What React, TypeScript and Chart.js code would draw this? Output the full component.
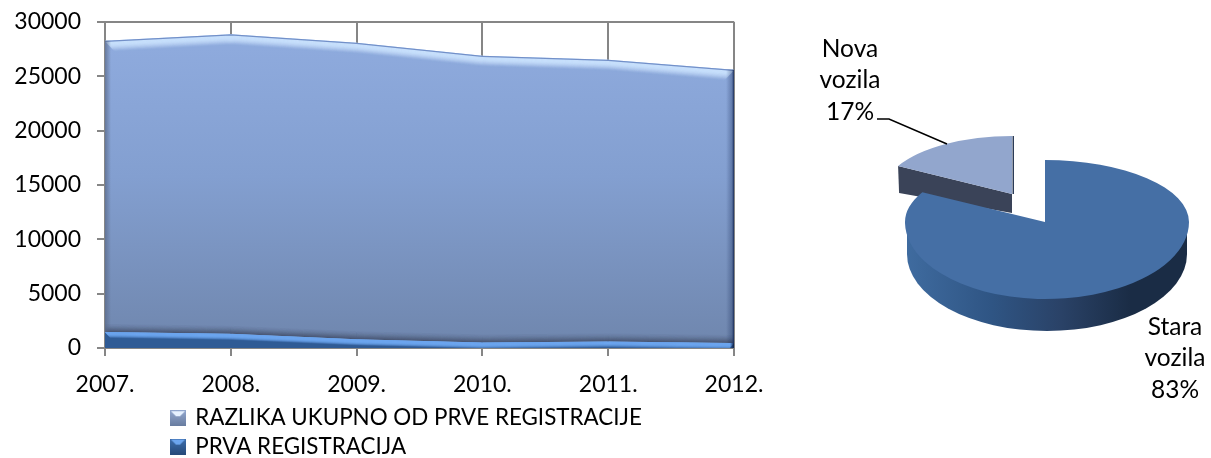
import React, { useEffect, useRef } from "react";
import { Chart, registerables } from "chart.js";

Chart.register(...registerables);

const years = ["2007.", "2008.", "2009.", "2010.", "2011.", "2012."];
const firstRegistration = [1470, 1300, 800, 500, 600, 450];
const difference = [26780, 27550, 27270, 26370, 25900, 25130];
const yTicks = [0, 5000, 10000, 15000, 20000, 25000, 30000];
const firstLabel = "PRVA REGISTRACIJA";
const differenceLabel = "RAZLIKA UKUPNO OD PRVE REGISTRACIJE";

const pieLabels = ["Stara vozila", "Nova vozila"];
const pieValues = [83, 17];

const FONT = "Lato";
const SHIFT = 8;

type Pt = { x: number; y: number };

function pts(chart: any, i: number): Pt[] {
  return chart.getDatasetMeta(i).data.map((p: any) => ({ x: p.x, y: p.y }));
}

function clipArea(ctx: CanvasRenderingContext2D, top: Pt[], bot: Pt[]) {
  ctx.beginPath();
  top.forEach((p, i) => (i ? ctx.lineTo(p.x, p.y) : ctx.moveTo(p.x, p.y)));
  [...bot].reverse().forEach((p) => ctx.lineTo(p.x, p.y));
  ctx.closePath();
  ctx.clip();
}

function strip(ctx: CanvasRenderingContext2D, line: Pt[], dy: number, dx = 0) {
  ctx.beginPath();
  line.forEach((p, i) => {
    const x = i === 0 ? p.x + dx : i === line.length - 1 ? p.x - dx : p.x;
    if (i) ctx.lineTo(x, p.y + dy);
    else ctx.moveTo(x, p.y + dy);
  });
  ctx.stroke();
}

const bevelPlugin = {
  id: "bevel",
  afterDatasetsDraw(chart: any) {
    const ctx: CanvasRenderingContext2D = chart.ctx;
    const a = chart.chartArea;
    const low = pts(chart, 0);
    const up = pts(chart, 1);
    const base = low.map((p) => ({ x: p.x, y: a.bottom }));

    // upper series
    ctx.save();
    clipArea(ctx, up, low);
    ctx.lineWidth = 1.2;
    for (let d = 11; d >= 0; d -= 0.5) {
      const al = d < 3 ? 0.9 : Math.max(0, 0.9 * (1 - (d - 3) / 8) ** 1.5);
      ctx.strokeStyle = `rgba(200,224,252,${al})`;
      strip(ctx, up, d, d * 0.9);
    }
    ctx.strokeStyle = "#7390c8";
    ctx.lineWidth = 1.5;
    strip(ctx, up, 0.4);
    for (let d = 0; d < 9; d += 0.5) {
      ctx.strokeStyle = `rgba(60,70,95,${0.55 * (1 - d / 9) ** 2})`;
      ctx.lineWidth = 1;
      strip(ctx, low, -d);
    }
    let g = ctx.createLinearGradient(a.left, 0, a.left + 6, 0);
    g.addColorStop(0, "rgba(90,105,135,0.75)");
    g.addColorStop(1, "rgba(90,105,135,0)");
    ctx.fillStyle = g;
    ctx.fillRect(a.left, a.top, 6, a.bottom - a.top);
    g = ctx.createLinearGradient(a.right - 8, 0, a.right, 0);
    g.addColorStop(0, "rgba(25,45,90,0)");
    g.addColorStop(0.75, "rgba(25,45,90,0.35)");
    g.addColorStop(1, "rgba(25,45,90,1)");
    ctx.fillStyle = g;
    ctx.fillRect(a.right - 8, a.top, 8, a.bottom - a.top);
    ctx.restore();

    // lower series
    ctx.save();
    clipArea(ctx, low, base);
    ctx.lineWidth = 1.2;
    for (let d = 6; d >= 0; d -= 0.5) {
      const al = d < 2 ? 1 : 1 - (d - 2) / 4;
      ctx.strokeStyle = `rgba(108,165,238,${al})`;
      strip(ctx, low, d, d * 0.9);
    }
    g = ctx.createLinearGradient(a.right - 4, 0, a.right, 0);
    g.addColorStop(0, "rgba(15,35,75,0)");
    g.addColorStop(1, "rgba(15,35,75,1)");
    ctx.fillStyle = g;
    ctx.fillRect(a.right - 4, a.top, 4, a.bottom - a.top);
    ctx.restore();
  },
};

const legendPlacePlugin = {
  id: "legendPlace",
  afterLayout(chart: any) {
    const l = chart.legend;
    if (!l) return;
    l.left = 166;
    l.right = 166 + 540;
    l.top = 401 + SHIFT;
    l.bottom = 458 + SHIFT;
  },
};

function icon(top: string, a: string, b: string) {
  const c = document.createElement("canvas");
  c.width = 16;
  c.height = 16;
  const x = c.getContext("2d")!;
  const g = x.createLinearGradient(0, 0, 0, 16);
  g.addColorStop(0, a);
  g.addColorStop(1, b);
  x.fillStyle = g;
  x.fillRect(0, 0, 16, 16);
  x.fillStyle = top;
  x.beginPath();
  x.moveTo(1, 1);
  x.lineTo(15, 1);
  x.lineTo(10, 6);
  x.lineTo(6, 6);
  x.closePath();
  x.fill();
  return c;
}

// ---- pie ----
const MAIN = { cx: 1045 - 790, cy: 222, left: 140, right: 144, up: 62 / 142, down: 77 / 142, depth: 32 };
const NOVA = { cx: 1012 - 790, cy: 194, left: 130, right: 130, up: 0.446, down: 0.446, depth: 24 };

function paintSlice(ctx: CanvasRenderingContext2D, arc: any, s: any) {
  const r = arc.outerRadius;
  const quad = (isUp: boolean, isLeft: boolean) => {
    const sx = (isLeft ? s.left : s.right) / r;
    const sy = (s.left + s.right) / 2 / r * (isUp ? s.up : s.down);
    ctx.save();
    ctx.beginPath();
    ctx.rect(isLeft ? 0 : s.cx, isUp ? 0 : s.cy, isLeft ? s.cx : 2000, isUp ? s.cy : 2000);
    ctx.clip();
    ctx.translate(s.cx, s.cy);
    ctx.scale(sx, sy);
    ctx.translate(-arc.x, -arc.y);
    arc.draw(ctx);
    ctx.restore();
  };
  quad(true, true);
  quad(true, false);
  quad(false, true);
  quad(false, false);
}

const pie3dPlugin = {
  id: "pie3d",
  beforeDatasetDraw(chart: any) {
    const ctx: CanvasRenderingContext2D = chart.ctx;
    const [mainArc, novaArc] = chart.getDatasetMeta(0).data;

    // Nova: cut face
    const start = novaArc.startAngle;
    const end = novaArc.endAngle;
    const nx = NOVA.cx + NOVA.left * Math.cos(start);
    const ny = NOVA.cy + NOVA.left * NOVA.up * Math.sin(start);
    ctx.save();
    ctx.fillStyle = "#3a4358";
    ctx.beginPath();
    ctx.moveTo(nx, ny);
    ctx.lineTo(NOVA.cx, NOVA.cy);
    ctx.lineTo(NOVA.cx, NOVA.cy + 19);
    ctx.lineTo(nx + 1, ny + NOVA.depth + 3);
    ctx.closePath();
    ctx.fill();
    ctx.fillStyle = "#2c3c58";
    ctx.fillRect(NOVA.cx + 0.5, NOVA.cy + NOVA.left * NOVA.up * Math.sin(end), 1.5, -NOVA.left * NOVA.up * Math.sin(end));
    ctx.restore();
    paintSlice(ctx, novaArc, NOVA);

    // Main: outer wall
    const yc = MAIN.cy;
    const ryD = 142 * MAIN.down;
    const wx = MAIN.cx + 2;
    const wr = 140;
    const g = ctx.createLinearGradient(wx - wr, 0, wx + wr, 0);
    g.addColorStop(0, "#3f6b9f");
    g.addColorStop(0.3, "#2f5584");
    g.addColorStop(0.55, "#2a4267");
    g.addColorStop(0.8, "#1a2c45");
    g.addColorStop(1, "#1a2c45");
    ctx.save();
    ctx.fillStyle = g;
    ctx.beginPath();
    ctx.moveTo(wx - wr, yc + 12);
    ctx.lineTo(wx + wr, yc + 12);
    ctx.lineTo(wx + wr, yc + MAIN.depth);
    ctx.ellipse(wx, yc + MAIN.depth, wr, ryD, 0, 0, Math.PI);
    ctx.closePath();
    ctx.fill();
    ctx.restore();

    paintSlice(ctx, mainArc, MAIN);

    // leader line and labels
    const vals: number[] = chart.data.datasets[0].data;
    const total = vals.reduce((s, v) => s + v, 0);
    ctx.save();
    ctx.strokeStyle = "#000";
    ctx.lineWidth = 1.5;
    ctx.beginPath();
    ctx.moveTo(877 - 790, 119);
    ctx.lineTo(889 - 790, 119);
    ctx.lineTo(947 - 790, 144);
    ctx.stroke();
    ctx.fillStyle = "#000";
    ctx.font = `24.5px ${FONT}`;
    ctx.textAlign = "center";
    ctx.textBaseline = "middle";
    const place = [
      { x: 1175 - 790, y: 327 },
      { x: 850 - 790, y: 49 },
    ];
    chart.data.labels.forEach((lab: string, i: number) => {
      const parts = lab.split(" ");
      parts.push(Math.round((vals[i] / total) * 100) + "%");
      parts.forEach((t, j) => ctx.fillText(t, place[i].x, place[i].y + j * 31.5));
    });
    ctx.restore();
    return false;
  },
};

export default function App() {
  const leftRef = useRef<HTMLCanvasElement>(null);
  const rightRef = useRef<HTMLCanvasElement>(null);

  useEffect(() => {
    document.body.style.margin = "0";
    const iconFirst = icon("#6ca5ee", "#3f6fae", "#264a7a");
    const iconDiff = icon("#e6f1ff", "#93a8cf", "#687c9f");

    const left = new Chart(leftRef.current!, {
      type: "line",
      data: {
        labels: years,
        datasets: [
          {
            label: firstLabel,
            data: firstRegistration,
            fill: "origin",
            borderWidth: 0,
            pointRadius: 0,
            tension: 0,
            backgroundColor: "#2f5b95",
          },
          {
            label: differenceLabel,
            data: difference,
            fill: "-1",
            borderWidth: 0,
            pointRadius: 0,
            tension: 0,
            backgroundColor: (c: any) => {
              const a = c.chart.chartArea;
              if (!a) return "#8aa5d5";
              const g = c.chart.ctx.createLinearGradient(0, a.top + 15, 0, a.bottom);
              g.addColorStop(0, "#8fabde");
              g.addColorStop(0.45, "#839fd0");
              g.addColorStop(1, "#6f86ad");
              return g;
            },
          },
        ],
      },
      options: {
        animation: false,
        responsive: false,
        layout: { autoPadding: false, padding: { top: 22, right: 56, left: 0, bottom: 0 } },
        plugins: {
          tooltip: { enabled: false },
          legend: {
            display: true,
            position: "bottom",
            align: "start",
            reverse: true,
            maxWidth: 540,
            labels: {
              usePointStyle: true,
              pointStyleWidth: 12,
              boxWidth: 12,
              boxHeight: 16,
              padding: 6,
              color: "#000",
              font: { family: FONT, size: 22.4 },
              generateLabels: (chart: any) =>
                chart.data.datasets.map((d: any, i: number) => ({
                  text: d.label,
                  datasetIndex: i,
                  pointStyle: i === 0 ? iconFirst : iconDiff,
                  fillStyle: "#000",
                  strokeStyle: "#000",
                  lineWidth: 0,
                  hidden: false,
                })),
            },
          },
        },
        scales: {
          x: {
            offset: false,
            grid: { color: "#868686", lineWidth: 2, tickLength: 8, drawOnChartArea: true },
            border: { color: "#868686", width: 2 },
            ticks: {
              color: "#000",
              padding: 15,
              autoSkip: false,
              maxRotation: 0,
              font: { family: FONT, size: 23 },
            },
            afterFit: (s: any) => {
              s.height = 110 - (s.chart.legend ? s.chart.legend.height : 0);
            },
          },
          y: {
            stacked: true,
            min: 0,
            max: 30000,
            afterBuildTicks: (s: any) => {
              s.ticks = yTicks.map((value) => ({ value }));
            },
            grid: { color: "#868686", lineWidth: 2, tickLength: 8 },
            border: { color: "#868686", width: 2 },
            ticks: {
              color: "#000",
              padding: 16,
              font: { family: FONT, size: 23 },
              callback: (v: any) => String(v),
            },
            afterFit: (s: any) => {
              s.width = 105;
            },
          },
        },
      } as any,
      plugins: [bevelPlugin, legendPlacePlugin],
    });

    const right = new Chart(rightRef.current!, {
      type: "pie",
      data: {
        labels: pieLabels,
        datasets: [
          {
            data: pieValues,
            backgroundColor: ["#456fa5", "#92a6cd"],
            borderWidth: 0,
            radius: 142,
          },
        ],
      },
      options: {
        animation: false,
        responsive: false,
        rotation: 0,
        plugins: { legend: { display: false }, tooltip: { enabled: false } },
      } as any,
      plugins: [pie3dPlugin],
    });

    return () => {
      left.destroy();
      right.destroy();
    };
  }, []);

  return (
    <div style={{ position: "absolute", left: 0, top: 0, width: 1211, height: 458, background: "#fff", overflow: "hidden" }}>
      <canvas ref={leftRef} width={790} height={458 + SHIFT} style={{ position: "absolute", left: 0, top: -SHIFT }} />
      <canvas ref={rightRef} width={421} height={458} style={{ position: "absolute", left: 790, top: 0 }} />
    </div>
  );
}
